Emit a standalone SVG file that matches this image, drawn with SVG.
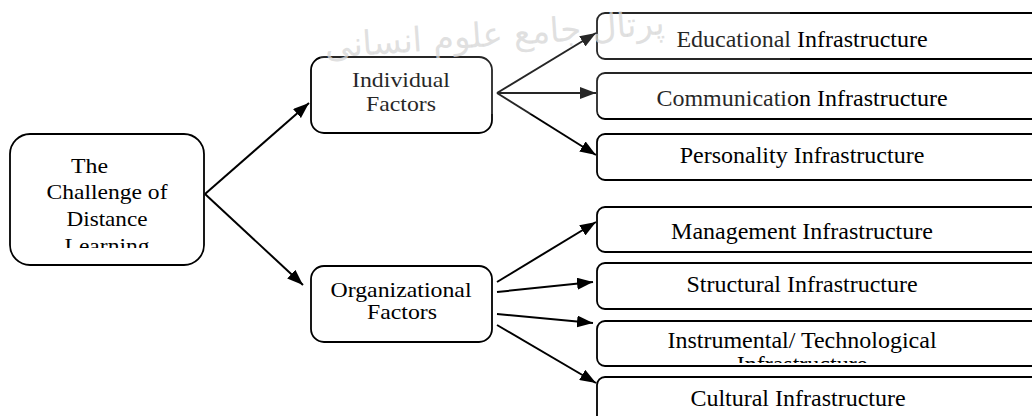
<svg xmlns="http://www.w3.org/2000/svg" width="1032" height="416" viewBox="0 0 1032 416">
  <defs>
    <style>
      .box { fill: #ffffff; stroke: #000000; stroke-width: 1.8; }
      .lbl { font-family: 'Liberation Serif', 'Times New Roman', serif; fill: #000000; }
      .mid { font-size: 21px; text-anchor: middle; }
      .rt { font-size: 24px; text-anchor: middle; }
      .conn line { stroke: #000000; stroke-width: 2; marker-end: url(#ah); }
      .wm { font-family: 'DejaVu Sans', sans-serif; font-size: 34px; fill: #d6d6d6; fill-opacity: 0.75; }
    </style>
    <marker id="ah" viewBox="0 0 16 12" refX="16" refY="6" markerWidth="16" markerHeight="12" orient="auto" markerUnits="userSpaceOnUse">
      <path d="M0,0 L16,6 L0,12 z" fill="#000000"/>
    </marker>
    <clipPath id="clipMain"><rect x="10" y="134" width="194" height="114"/></clipPath>
    <clipPath id="clipInstr"><rect x="597" y="321" width="440" height="42"/></clipPath>
  </defs>
  <rect width="1032" height="416" fill="#ffffff"/>

  <g id="connectors" class="conn">
    <line x1="205" y1="194" x2="309" y2="103"/>
    <line x1="205" y1="194" x2="303" y2="285"/>
    <line x1="497" y1="93" x2="596" y2="33"/>
    <line x1="497" y1="93" x2="596" y2="93"/>
    <line x1="497" y1="93" x2="596" y2="155"/>
    <line x1="497" y1="282" x2="596" y2="222"/>
    <line x1="497" y1="292" x2="593" y2="282"/>
    <line x1="497" y1="314" x2="593" y2="323"/>
    <line x1="497" y1="325" x2="596" y2="383"/>
  </g>

  <g id="node-challenge">
    <rect class="box" x="10" y="134" width="194" height="131" rx="20"/>
    <g clip-path="url(#clipMain)" font-family="'Liberation Serif', 'Times New Roman', serif" font-size="22" fill="#000000">
      <text x="71" y="173" textLength="37" lengthAdjust="spacingAndGlyphs">The</text>
      <text x="107" y="199" text-anchor="middle" textLength="121" lengthAdjust="spacingAndGlyphs">Challenge of</text>
      <text x="107" y="226" text-anchor="middle" textLength="81" lengthAdjust="spacingAndGlyphs">Distance</text>
      <text x="107" y="253" text-anchor="middle" textLength="85" lengthAdjust="spacingAndGlyphs">Learning</text>
    </g>
  </g>

  <g id="node-individual" font-family="'Liberation Serif', 'Times New Roman', serif">
    <rect class="box" x="311" y="57" width="181" height="76" rx="13"/>
    <text class="lbl mid" x="401" y="87" textLength="98" lengthAdjust="spacingAndGlyphs">Individual</text>
    <text class="lbl mid" x="401" y="111" textLength="70" lengthAdjust="spacingAndGlyphs">Factors</text>
  </g>

  <g id="node-organizational" font-family="'Liberation Serif', 'Times New Roman', serif">
    <rect class="box" x="311" y="266" width="181" height="76" rx="13"/>
    <text class="lbl mid" x="401" y="297" textLength="141" lengthAdjust="spacingAndGlyphs">Organizational</text>
    <text class="lbl mid" x="402" y="319" textLength="70" lengthAdjust="spacingAndGlyphs">Factors</text>
  </g>

  <g id="node-educational" font-family="'Liberation Serif', 'Times New Roman', serif">
    <rect class="box" x="597" y="13" width="460" height="46" rx="8"/>
    <text class="lbl rt" x="802" y="47">Educational Infrastructure</text>
  </g>
  <g id="node-communication" font-family="'Liberation Serif', 'Times New Roman', serif">
    <rect class="box" x="597" y="73" width="460" height="46" rx="8"/>
    <text class="lbl rt" x="802" y="106">Communication Infrastructure</text>
  </g>
  <g id="node-personality" font-family="'Liberation Serif', 'Times New Roman', serif">
    <rect class="box" x="597" y="134" width="460" height="46" rx="8"/>
    <text class="lbl rt" x="802" y="163">Personality Infrastructure</text>
  </g>
  <g id="node-management" font-family="'Liberation Serif', 'Times New Roman', serif">
    <rect class="box" x="597" y="207" width="460" height="45" rx="8"/>
    <text class="lbl rt" x="802" y="239">Management Infrastructure</text>
  </g>
  <g id="node-structural" font-family="'Liberation Serif', 'Times New Roman', serif">
    <rect class="box" x="597" y="263" width="460" height="46" rx="8"/>
    <text class="lbl rt" x="802" y="292">Structural Infrastructure</text>
  </g>
  <g id="node-instrumental" font-family="'Liberation Serif', 'Times New Roman', serif">
    <rect class="box" x="597" y="321" width="460" height="45" rx="8"/>
    <g clip-path="url(#clipInstr)">
      <text class="lbl rt" x="802" y="348">Instrumental/ Technological</text>
      <text class="lbl rt" x="802" y="372">Infrastructure</text>
    </g>
  </g>
  <g id="node-cultural" font-family="'Liberation Serif', 'Times New Roman', serif">
    <rect class="box" x="597" y="377" width="460" height="60" rx="8"/>
    <text class="lbl rt" x="798" y="406">Cultural Infrastructure</text>
  </g>

  <g id="watermark">
    <rect x="320" y="0" width="470" height="114" fill="#ffffff" fill-opacity="0.15"/>
    <text class="wm" x="495" y="46" text-anchor="middle" direction="rtl" transform="rotate(-4 495 40)">پرتال جامع علوم انسانی</text>
  </g>
</svg>
